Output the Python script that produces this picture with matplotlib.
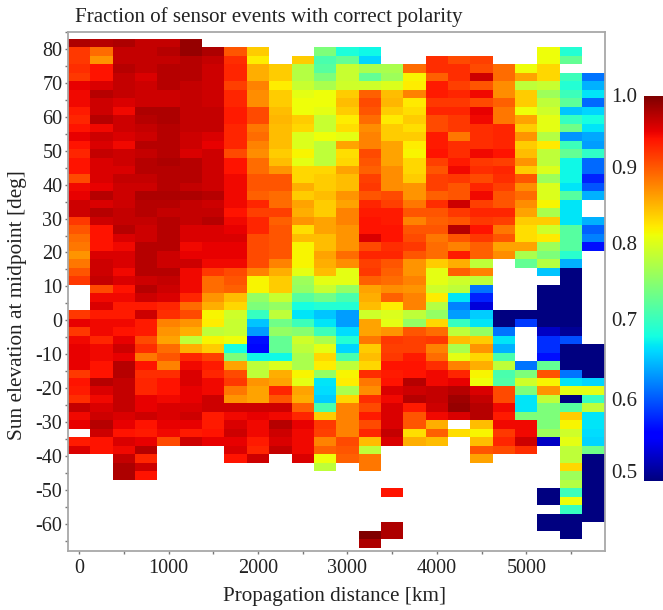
import numpy as np
import matplotlib
matplotlib.use("Agg")
import matplotlib.pyplot as plt

plt.rcParams['font.family'] = ['Liberation Serif', 'DejaVu Serif']
plt.rcParams['axes.unicode_minus'] = False

_ = np.nan

title = "Fraction of sensor events with correct polarity"
xlabel = "Propagation distance [km]"
ylabel = "Sun elevation at midpoint [deg]"

x_major = [0, 1000, 2000, 3000, 4000, 5000]
x_minor = [500, 1500, 2500, 3500, 4500, 5500]
y_major = [80, 70, 60, 50, 40, 30, 20, 10, 0, -10, -20, -30, -40, -50, -60]
y_minor = [85, 75, 65, 55, 45, 35, 25, 15, 5, -5, -15, -25, -35, -45, -55, -65]
cbar_labels = ["1.0", "0.9", "0.8", "0.7", "0.6", "0.5"]

# colours read off cell by cell, one row per 2.5 deg bin from the top,
# one column per 250 km bin
percent = [
    [98,97.5,98,97,97,99,_,_,_,_,_,_,_,_,_,_,_,_,_,_,_,_,_,_],
    [92.5,90,97,97,97.5,99,98,91,85.5,_,_,77,70.5,69.5,_,_,_,_,_,_,_,82.5,71,_],
    [92.5,88,97,97,97,97.5,97,93,83.5,_,85.5,74,76,67,_,_,93,91.5,92,_,_,82.5,76,_],
    [93,94.5,97.5,97,97.5,97.5,96.5,93.5,87,85.5,79.5,75,80.5,79,79,90,93,93,91.5,90,82.5,85,_,_],
    [92.5,94.5,97,96,97.5,97.5,96.5,93.5,87,85.5,79.5,77,80.5,76,78.5,83,90.5,93,96.5,90,87.5,85,73,62],
    [95.5,96,97,96.5,97.5,97,96.5,92,89,83.5,80.5,79,81,81,81.5,83.5,94,92,91,88.5,80,80.5,71,65],
    [95,97.5,97,96.5,96.5,97,96.5,93.5,88.5,85.5,82,82.5,85.5,90.5,86,89,94,93.5,95,88.5,85.5,78.5,73,68],
    [95,96.5,96,96.5,96.5,97,96.5,93.5,88.5,85.5,82.5,82.5,86,91.5,86.5,84,92.5,92.5,91.5,90.5,85.5,80,75.5,61.5],
    [94,96.5,95,98,98,97,97,94,91.5,86,82.5,82,85.5,91,85.5,84.5,93.5,93.5,95.5,89.5,82.5,81,66,67],
    [93.5,97.5,96.5,97.5,98,97,97,94,91.5,86.5,85.5,80.5,83.5,90,84,85.5,91.5,92.5,95,89.5,87.5,82,72.5,70],
    [94.5,95,96.5,97,97.5,97,97,93.5,89.5,86,85,80.5,84.5,88.5,85.5,84.5,91.5,92.5,93,93.5,85.5,82,76.5,68],
    [95.5,96.5,96,96.5,97.5,96.5,96,93.5,90,86,81.5,82.5,82,89,85.5,85.5,94,89.5,93,93.5,88,79.5,63.5,64.5],
    [94.5,96,95,97.5,97.5,96.5,95.5,93.5,89,86,81.5,80,87.5,89,87.5,83.5,94,93,93,93.5,85.5,84,73,64],
    [93.5,97,96.5,97,97.5,96,96.5,91.5,88.5,85.5,83,80,84.5,91.5,87.5,83,94.5,93,95,94.5,86,80,76,72],
    [94.5,96,96.5,97.5,98,97.5,96.5,94.5,90,86,82,80,85,91,87.5,85,92,94,92.5,92,88,80,69.5,61.5],
    [94.5,96,96,97.5,97.5,97.5,96.5,94.5,90,88,85,85,87.5,90.5,88.5,85,91,95,93,93.5,85.5,81.5,69.5,61.5],
    [91.5,96,97,97,97.5,97.5,96.5,95,91,91,85,85.5,86,92,88.5,85.5,92,92.5,91.5,93,91,78.5,69.5,58],
    [95,95.5,96.5,96.5,97.5,97,96.5,95,91,91,87,85.5,86,92.5,88.5,88,92,91,93.5,92,88.5,81.5,68,60.5],
    [95.5,97.5,96.5,98,98,98,97.5,95,90.5,90,85.5,86,88,91,91.5,88,90.5,91,95,91,90,81.5,75,65],
    [96.5,96,96.5,97.5,97.5,97,96.5,95,93.5,90,87.5,85.5,87.5,93.5,92,89.5,93,96.5,92,91,88.5,83,68,_],
    [96.5,97.5,97,97.5,97,97,97,94.5,92,92,87,85.5,89,94,94,91,91,92.5,93.5,93.5,87.5,79,68,_],
    [92.5,96.5,97,97,97.5,97,97.5,95,93.5,90.5,88,87.5,89,94.5,94,89,90.5,91,92.5,92,85.5,85.5,68,65],
    [91,94.5,97.5,96.5,97.5,96,96,95.5,93.5,91,84.5,87.5,88,94.5,94.5,91,91,97.5,94.5,89.5,84.5,81,75,61],
    [90,94.5,96,96.5,97.5,96,96,96,91.5,91,86,86,88,96,94.5,91.5,89.5,91,92.5,91,84.5,84,75,62.5],
    [89.5,94.5,95,97.5,97.5,95,95.5,95.5,91.5,91,83,86,88,91.5,93,92.5,90,89,90.5,87.5,87.5,78.5,75,57],
    [88,96,96,97.5,96.5,95.5,95.5,95.5,91.5,91,83,87.5,90,93.5,93.5,91,90,94,90.5,88.5,79,77,71.5,_],
    [89.5,96.5,96,97.5,96.5,96.5,95,95,91.5,89,83,87,88.5,92,91,88,85.5,87,80,_,76,79.5,65,_],
    [91,96.5,95,97.5,97.5,95,92.5,91.5,89,87,82,86,82,92.5,90.5,88,82,90.5,89,_,_,66,50,_],
    [92.5,97,96,96.5,97,95,90,91,83,85.5,78.5,82,82,90.5,90,89,82,81,80,_,_,_,50,_],
    [_,91.5,94.5,97.5,96.5,95,90,90.5,83,85.5,78,80.5,78,87.5,88.5,88,81,80,62,_,_,50,50,_],
    [_,95,95,96.5,96,93.5,88,86,78,80.5,75,76.5,74,87,90.5,89,83.5,68,58,_,_,50,50,_],
    [_,96,94,94,93.5,90,87,85,77,78,70,71,71,86,83.5,89,79.5,62.5,54,_,_,50,50,_],
    [92.5,94,94,96.5,93,91.5,83,81,72.5,80,68,66,64,81,81.5,80,78,64,66.5,50,50,50,50,_],
    [95.5,95,95,94,89,88,83.5,80.5,66,76.5,73,68,64,87.5,82,78,85,72.5,68,50,59,50,50,_],
    [92.5,95,94.5,94,88,87,80,80.5,64,78,77.5,73,67.5,87.5,88,91,90,80,78,62,_,53,51,_],
    [95,93.5,95.5,91.5,87.5,80,83,82.5,57,76,81,79,71,89.5,92.5,92,92.5,86,85.5,68,_,58.5,60,_],
    [95.5,95,96.5,93,90,87,85.5,70,56.5,76,80,82,67,85.5,92,92,89,79,88,65,_,58.5,50,50],
    [95.5,95,95.5,89.5,91,93.5,92,77,69.5,69.5,79,85,74,86,92.5,94,90,82,85,74,_,57,50,50],
    [95.5,94.5,97.5,94.5,89,95,94,87.5,80,81.5,79,83.5,80,85,94.5,94.5,93,89,87,80,62,76,50,50],
    [92.5,94.5,97.5,93,93,96,93.5,91.5,80,87,83,78,83,93,94,94.5,95,93.5,83,74,77,91,62,50],
    [94.5,97.5,97,93.5,94.5,96,95,92.5,88,87.5,82,68,83.5,89.5,94.5,97.5,95,95.5,82.5,74.5,81,83,68,67],
    [94,96,97,93.5,94.5,95.5,95,89.5,87.5,93.5,87.5,67.5,79,88.5,96,96.5,97,97.5,96,91.5,77,88,82,82],
    [93,95,97,95.5,95,95.5,96.5,88,87.5,91,87,66.5,85,93,95,97.5,97,98.5,97,91.5,68,80,50,72.5],
    [97,96,97,95.5,96,96,96.5,96.5,96.5,96.5,90.5,74,89,91.5,96,94,96.5,99,97.5,95,68,77,75,80],
    [95,96.5,96,96.5,96,96.5,94,95,95.5,95,93.5,85.5,89,94,96,91,95,96,97.5,94,77,77,85.5,68],
    [95.5,97.5,95.5,94.5,95.5,95.5,94,96,95,97.5,95.5,92.5,89,91.5,96,91,87,_,86,95,95,77,83,68],
    [_,96.5,94.5,94,95,94,94.5,96.5,95,96.5,95,92,89,93.5,97,84.5,90.5,84.5,83,92.5,95,78.5,81,67.5],
    [94,94.5,96,95.5,91.5,96.5,95.5,95.5,94,96,95,89,91.5,86,96,87,86,_,86,93.5,96.5,53,82,67],
    [96,94.5,95,97.5,_,_,_,96,93.5,97,95,90.5,91,80,_,_,_,_,91,91.5,93,_,80,76.5],
    [_,_,97,93.5,_,_,_,94.5,96.5,_,96,82.5,90.5,89.5,_,_,_,_,87.5,_,_,_,80,50],
    [_,_,98,96.5,_,_,_,_,_,_,_,80,_,89.5,_,_,_,_,_,_,_,_,85,50],
    [_,_,98,94.5,_,_,_,_,_,_,_,_,_,_,_,_,_,_,_,_,_,_,78.5,50],
    [_,_,_,_,_,_,_,_,_,_,_,_,_,_,_,_,_,_,_,_,_,_,79.5,50],
    [_,_,_,_,_,_,_,_,_,_,_,_,_,_,94.5,_,_,_,_,_,_,50,73,50],
    [_,_,_,_,_,_,_,_,_,_,_,_,_,_,_,_,_,_,_,_,_,50,82.5,50],
    [_,_,_,_,_,_,_,_,_,_,_,_,_,_,_,_,_,_,_,_,_,_,72.5,50],
    [_,_,_,_,_,_,_,_,_,_,_,_,_,_,_,_,_,_,_,_,_,50,50,50],
    [_,_,_,_,_,_,_,_,_,_,_,_,_,_,98,_,_,_,_,_,_,50,50,_],
    [_,_,_,_,_,_,_,_,_,_,_,_,_,100,98,_,_,_,_,_,_,_,50,_],
    [_,_,_,_,_,_,_,_,_,_,_,_,_,98,_,_,_,_,_,_,_,_,_,_],
]

# my colour reading ran a bit high in the green to orange band, this puts
# it back on the colorbar scale
read_scale = [50, 66, 68, 71, 74, 76, 77, 78, 79, 80, 81, 82, 83, 84, 85, 86, 87, 88, 89, 90, 91, 100]
cbar_scale = [50, 66, 67.5, 69.6, 72, 73.5, 75, 76.4, 77.8, 79, 80, 81.4, 82.5, 83.2, 84, 85.5, 86.2, 87.5, 88.6, 89.7, 91, 100]

frac = np.interp(np.array(percent), read_scale, cbar_scale) / 100.0
x_edges = -125 + 250 * np.arange(frac.shape[1] + 1)
y_edges = 83 - 2.5 * np.arange(frac.shape[0] + 1)

W, H = 663, 610
fig = plt.figure(figsize=(W / 100, H / 100), dpi=100)
ax = fig.add_axes([68 / W, (H - 551) / H, 536.5 / W, 519 / H])

cmap = plt.get_cmap("jet").copy()
cmap.set_bad("white")
mesh = ax.pcolormesh(x_edges, y_edges, np.ma.masked_invalid(frac), cmap=cmap,
                     vmin=0.5, vmax=1.0, linewidth=0, rasterized=True)

ax.set_xlim(-125, 5875)
ax.set_ylim(-68, 85)
ax.set_xticks(x_major)
ax.set_xticks(x_minor, minor=True)
ax.set_yticks(y_major)
ax.set_yticks(y_minor, minor=True)
ax.tick_params(which="both", direction="out", length=2.5, width=1, color="#777777",
               labelsize=14.5, labelcolor="#222222", pad=1.5)
ax.tick_params(axis="x", which="both", pad=3.5)
for s in ax.spines.values():
    s.set_color("#a8a8a8")
    s.set_linewidth(1.3)

fig.text(75 / W, 1 - 17 / H, title, fontsize=15.1, color="#222222", ha="left", va="center")
fig.text(335 / W, 1 - 597 / H, xlabel, fontsize=15.2, color="#222222", ha="center", va="center")
fig.text(18 / W, 1 - 305 / H, ylabel, fontsize=15.3, color="#222222", rotation=90,
         ha="center", va="center")

# colorbar runs off the right edge of the picture
cax = fig.add_axes([644 / W, (H - 481) / H, 19 / W, 385 / H])
grad = np.linspace(1.0, 0.5, 256).reshape(-1, 1)
cax.imshow(grad, aspect="auto", cmap=cmap, vmin=0.5, vmax=1.0, extent=[0, 1, 0.5, 1.0])
cax.axis("off")

cbar_y = [97, 170, 245, 321, 401, 474]
for lab, py in zip(cbar_labels, cbar_y):
    fig.text(624 / W, 1 - py / H, lab, fontsize=15, color="#222222", ha="center", va="center")

fig.savefig("out.png", dpi=100)
